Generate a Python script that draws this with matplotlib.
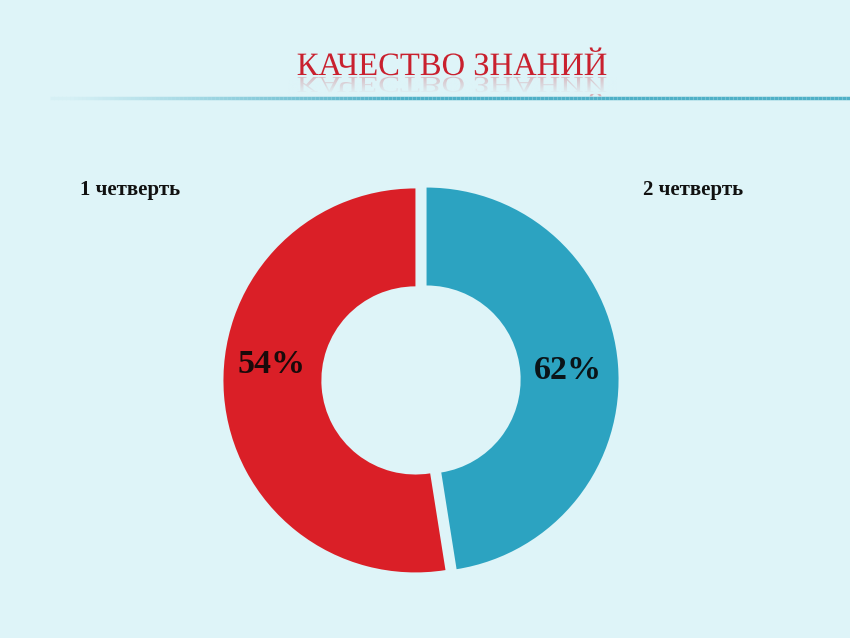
import numpy as np
import matplotlib
matplotlib.use("Agg")
import matplotlib.pyplot as plt
from matplotlib.textpath import TextPath
from matplotlib.font_manager import FontProperties
from matplotlib.patches import PathPatch
from matplotlib.transforms import Affine2D
from matplotlib.collections import LineCollection

# ---- data ----
title = "КАЧЕСТВО ЗНАНИЙ"
categories = ["1 четверть", "2 четверть"]
pct_labels = ["54%", "62%"]
# angular share of each ring segment as drawn in the picture (red, blue)
wedge_shares = [52.5, 47.5]
colors = ["#da1f27", "#2ca3c1"]

BG = "#def4f8"
W, H = 850, 638
fig = plt.figure(figsize=(W / 100, H / 100), dpi=100, facecolor=BG)

# ---- title with reflection ----
tax = fig.add_axes([0, 0, 1, 1], facecolor="none")
tax.set_xlim(0, W)
tax.set_ylim(H, 0)
tax.axis("off")

fp = FontProperties(family="Liberation Serif")
tp = TextPath((0, 0), title, prop=fp, size=32.6)
bb = tp.get_extents()
tw = bb.width
x0 = 452 - tw / 2
base_y = 75
main = PathPatch(Affine2D().scale(1, -1).translate(x0 - bb.x0, base_y).transform_path(tp),
                 facecolor="#c9202e", edgecolor="none", zorder=3)
tax.add_patch(main)
refl = PathPatch(Affine2D().scale(1, 0.7).translate(x0 - bb.x0, base_y + 2).transform_path(tp),
                 facecolor="#c9202e", edgecolor="none", alpha=0.3, zorder=3)
tax.add_patch(refl)
# fade-out gradient over reflection
grad = np.zeros((40, 2, 4))
bgc = matplotlib.colors.to_rgb(BG)
grad[..., :3] = bgc
grad[..., 3] = np.linspace(0.15, 1.0, 40)[:, None]
tax.imshow(grad, extent=(x0 - 10, x0 + tw + 10, base_y + 2 + 17, base_y + 2), aspect="auto",
           zorder=4, interpolation="bilinear")
tax.set_xlim(0, W)
tax.set_ylim(H, 0)

# ---- horizontal rule with gradient ----
xs = np.linspace(50, W, 200)
segs = [[(xs[i], 98), (xs[i + 1], 98)] for i in range(len(xs) - 1)]
alphas = np.clip((xs[:-1] - 50) / 350, 0.05, 1.0)
lc_colors = [(0.31, 0.69, 0.78, a) for a in alphas]
tax.add_collection(LineCollection(segs, colors=lc_colors, linewidths=2.5, zorder=6))

# ---- donut ----
cx, cy, R = 421, 380, 192
half = 1.25 * R
ax = fig.add_axes([(cx - half) / W, (H - cy - half) / H, 2 * half / W, 2 * half / H])
ax.set_facecolor("none")
ax.pie(wedge_shares, colors=colors, startangle=90, counterclock=True,
       explode=[0.029, 0.029], radius=1.0,
       wedgeprops=dict(width=0.51, edgecolor="none"))
ax.set_xlim(-1.25, 1.25)
ax.set_ylim(-1.25, 1.25)
ax.set_aspect("equal")
ax.axis("off")

lab_font = ["Liberation Serif", "DejaVu Serif"]
ax.text(-0.78, 0.08, pct_labels[0], ha="center", va="center", fontsize=24.5,
        fontweight="bold", family=lab_font, color="#1a0a0a")
ax.text(0.766, 0.05, pct_labels[1], ha="center", va="center", fontsize=24.5,
        fontweight="bold", family=lab_font, color="#0a1418")

# ---- category labels ----
fig.text(130 / W, 1 - 190 / H, categories[0], ha="center", va="center", fontsize=15,
         fontweight="bold", family=lab_font, color="#111111")
fig.text(693 / W, 1 - 190 / H, categories[1], ha="center", va="center", fontsize=15,
         fontweight="bold", family=lab_font, color="#111111")

fig.savefig("out.png", dpi=100, facecolor=BG)
